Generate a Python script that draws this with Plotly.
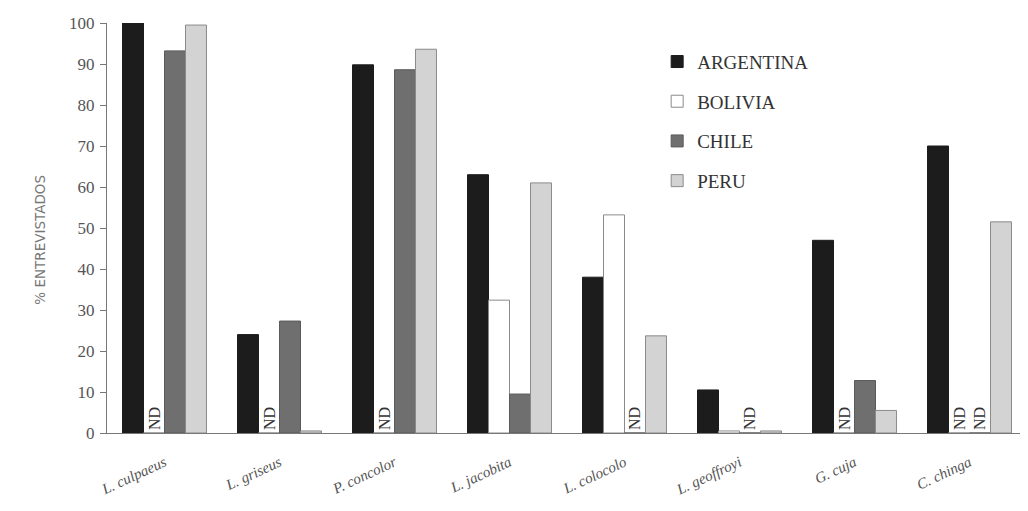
import plotly.graph_objects as go

species = ["L. culpaeus", "L. griseus", "P. concolor", "L. jacobita",
           "L. colocolo", "L. geoffroyi", "G. cuja", "C. chinga"]
countries = ["ARGENTINA", "BOLIVIA", "CHILE", "PERU"]

# None = ND (no data)
argentina = [100, 24, 89.8, 63, 38, 10.5, 47, 70]
bolivia = [None, None, None, 32.4, 53.2, 0.5, None, None]
chile = [93.2, 27.3, 88.6, 9.5, None, None, 12.8, None]
peru = [99.5, 0.5, 93.6, 61, 23.7, 0.5, 5.5, 51.5]

series = [argentina, bolivia, chile, peru]
fills = ["#1c1c1c", "#ffffff", "#6f6f6f", "#d3d3d3"]
lines = ["#1c1c1c", "#8a8a8a", "#5a5a5a", "#8a8a8a"]

serif = "Liberation Serif"

fig = go.Figure()
for i, (name, vals) in enumerate(zip(countries, series)):
    ys = [0 if v is None else v for v in vals]
    txt = ["ND" if v is None else "" for v in vals]
    fig.add_trace(go.Bar(
        x=species, y=ys, name=name,
        marker=dict(color=fills[i], line=dict(color=lines[i], width=1)),
        text=txt, textposition="outside", textangle=-90,
        constraintext="none", cliponaxis=False,
        textfont=dict(family=serif, size=16, color="#333333"),
        legendgroup=name,
    ))

fig.update_layout(
    width=1020, height=503,
    margin=dict(l=99, r=1, t=15, b=78),
    paper_bgcolor="white", plot_bgcolor="white",
    barmode="group", bargap=0.27, bargroupgap=0,
    showlegend=True,
    legend=dict(
        x=0.598, y=0.952, xanchor="left", yanchor="top",
        font=dict(family=serif, size=19, color="#333333"),
        traceorder="grouped", tracegroupgap=12,
        itemwidth=30, bgcolor="rgba(0,0,0,0)",
    ),
    xaxis=dict(
        tickmode="array", tickvals=species,
        ticktext=["<i>" + s + "</i>" for s in species],
        tickangle=-25, showline=True, linecolor="#777777", linewidth=1,
        ticks="", tickfont=dict(family=serif, size=15, color="#555555"),
        ticklabelstandoff=14,
        showgrid=False,
    ),
    yaxis=dict(
        range=[0, 100], tickmode="linear", tick0=0, dtick=10,
        showline=True, linecolor="#777777", linewidth=1,
        ticks="outside", ticklen=6, tickcolor="#777777",
        tickfont=dict(family=serif, size=17, color="#555555"),
        ticklabelstandoff=2,
        showgrid=False, zeroline=False,
    ),
    annotations=[dict(
        text="% ENTREVISTADOS", xref="paper", yref="paper",
        x=-0.073, y=0.471, xanchor="center", yanchor="middle",
        textangle=-90, showarrow=False,
        font=dict(family="DejaVu Sans", size=13.5, color="#777777"),
    )],
)

fig.write_html("out.html")
